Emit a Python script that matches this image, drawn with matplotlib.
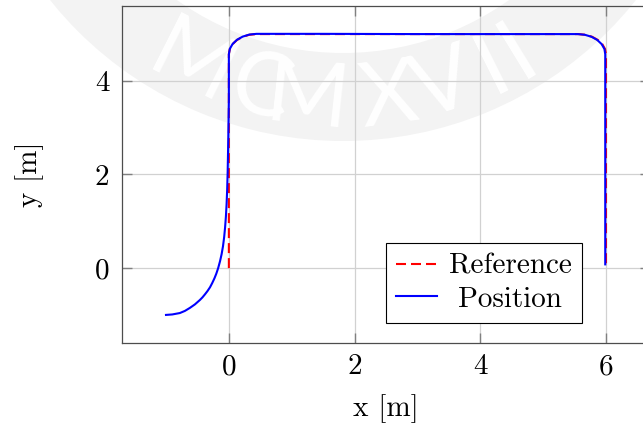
import numpy as np
import matplotlib
matplotlib.use('Agg')
import matplotlib.pyplot as plt
from matplotlib.patches import Wedge
from matplotlib.transforms import IdentityTransform

plt.rcParams['font.family'] = 'serif'
plt.rcParams['font.serif'] = ['cmr10']
plt.rcParams['mathtext.fontset'] = 'cm'
plt.rcParams['axes.unicode_minus'] = False
plt.rcParams['lines.scale_dashes'] = False
plt.rcParams['font.size'] = 21

# reference path: up, across the top, down
ref_x = [0.0, 0.0, 0.015, 0.059, 0.129, 0.22, 0.326, 0.44,
         5.56, 5.674, 5.78, 5.871, 5.941, 5.985, 6.0, 6.0]
ref_y = [0.0, 4.57, 4.681, 4.785, 4.874, 4.942, 4.985, 5.0,
         5.0, 4.985, 4.942, 4.874, 4.785, 4.681, 4.57, 0.1]

# measured position, starting off the path at (-1, -1)
pos_x = [-1.0, -0.9, -0.78, -0.7, -0.62, -0.54, -0.46, -0.42, -0.38,
         -0.34, -0.3, -0.265, -0.23, -0.2, -0.17, -0.14, -0.115, -0.093,
         -0.075, -0.06, -0.047, -0.036, -0.027, -0.019, -0.01, 0.0, 0.0,
         0.015, 0.059, 0.129, 0.22, 0.326, 0.44, 1.5, 3.0, 4.5, 5.55,
         5.664, 5.77, 5.861, 5.931, 5.975, 5.988, 5.988]
pos_y = [-1.0, -0.99, -0.96, -0.915, -0.85, -0.775, -0.68, -0.625, -0.56,
         -0.49, -0.41, -0.32, -0.22, -0.12, 0.0, 0.15, 0.3, 0.47,
         0.66, 0.87, 1.1, 1.37, 1.67, 2.05, 2.7, 3.6, 4.57,
         4.683, 4.788, 4.878, 4.946, 4.99, 5.005, 5.005, 5.0, 5.0, 5.0,
         4.985, 4.942, 4.874, 4.785, 4.681, 4.57, 0.08]

fig = plt.figure(figsize=(6.43, 4.25), dpi=100)

# faint background seal
seal = Wedge((343, 659), 375, 0, 360, width=88, transform=IdentityTransform(),
             facecolor='#f3f3f3', edgecolor='none', zorder=-2)
fig.patches.append(seal)
seal_letters = ['M', 'C', 'M', 'X', 'V', 'I', 'I']
seal_angles = [-116.8, -104.2, -96.1, -82.3, -72.6, -63.5, -58.5]
for ch, a in zip(seal_letters, seal_angles):
    t = np.deg2rad(a)
    fig.text(343 + 335 * np.cos(t), 659 + 335 * np.sin(t), ch,
             transform=IdentityTransform(), family=['Lato', 'DejaVu Sans'],
             weight='normal', fontsize=64, color='white', ha='center',
             va='center', rotation=a + 90, zorder=-1)

ax = fig.add_axes([122 / 643, 82 / 425, 528 / 643, 337 / 425])
ax.set_facecolor('none')

ax.plot(ref_x, ref_y, color='red', lw=1.5, dashes=(7.2, 3.6), label='Reference')
ax.plot(pos_x, pos_y, color='blue', lw=1.5, label='Position')

ax.set_xlim(-1.7, 6.7)
ax.set_ylim(-1.6, 5.6)
ax.set_xticks([0, 2, 4, 6])
ax.set_yticks([0, 2, 4])
ax.grid(color='0.82', lw=0.9)
ax.set_axisbelow(True)
ax.tick_params(direction='in', length=7, width=1.0, color='0.5',
               top=True, right=True, labelsize=21)
ax.tick_params(axis='x', pad=8)
ax.tick_params(axis='y', pad=9)
for sp in ax.spines.values():
    sp.set_color('0.3')
    sp.set_linewidth(0.9)

ax.set_xlabel('x [m]', fontsize=21)
ax.set_ylabel('y [m]', fontsize=21)
ax.xaxis.set_label_coords(0.5, -0.152)
ax.yaxis.set_label_coords(-0.148, 0.5)

leg = ax.legend(loc='lower right', bbox_to_anchor=(0.871, 0.059),
                borderaxespad=0, fancybox=False, framealpha=1,
                handlelength=1.38, handletextpad=0.41, borderpad=0.36,
                labelspacing=0.22, fontsize=21)
leg.get_frame().set_edgecolor('black')
leg.get_frame().set_linewidth(0.8)

# centre the entries in the legend column
fig.canvas.draw()
r = fig.canvas.get_renderer()
texts = leg.get_texts()
widths = [t.get_window_extent(r).width for t in texts]
for t, w in zip(texts, widths):
    t.set_x((max(widths) - w) / 2)

fig.savefig('out.png', dpi=100)
